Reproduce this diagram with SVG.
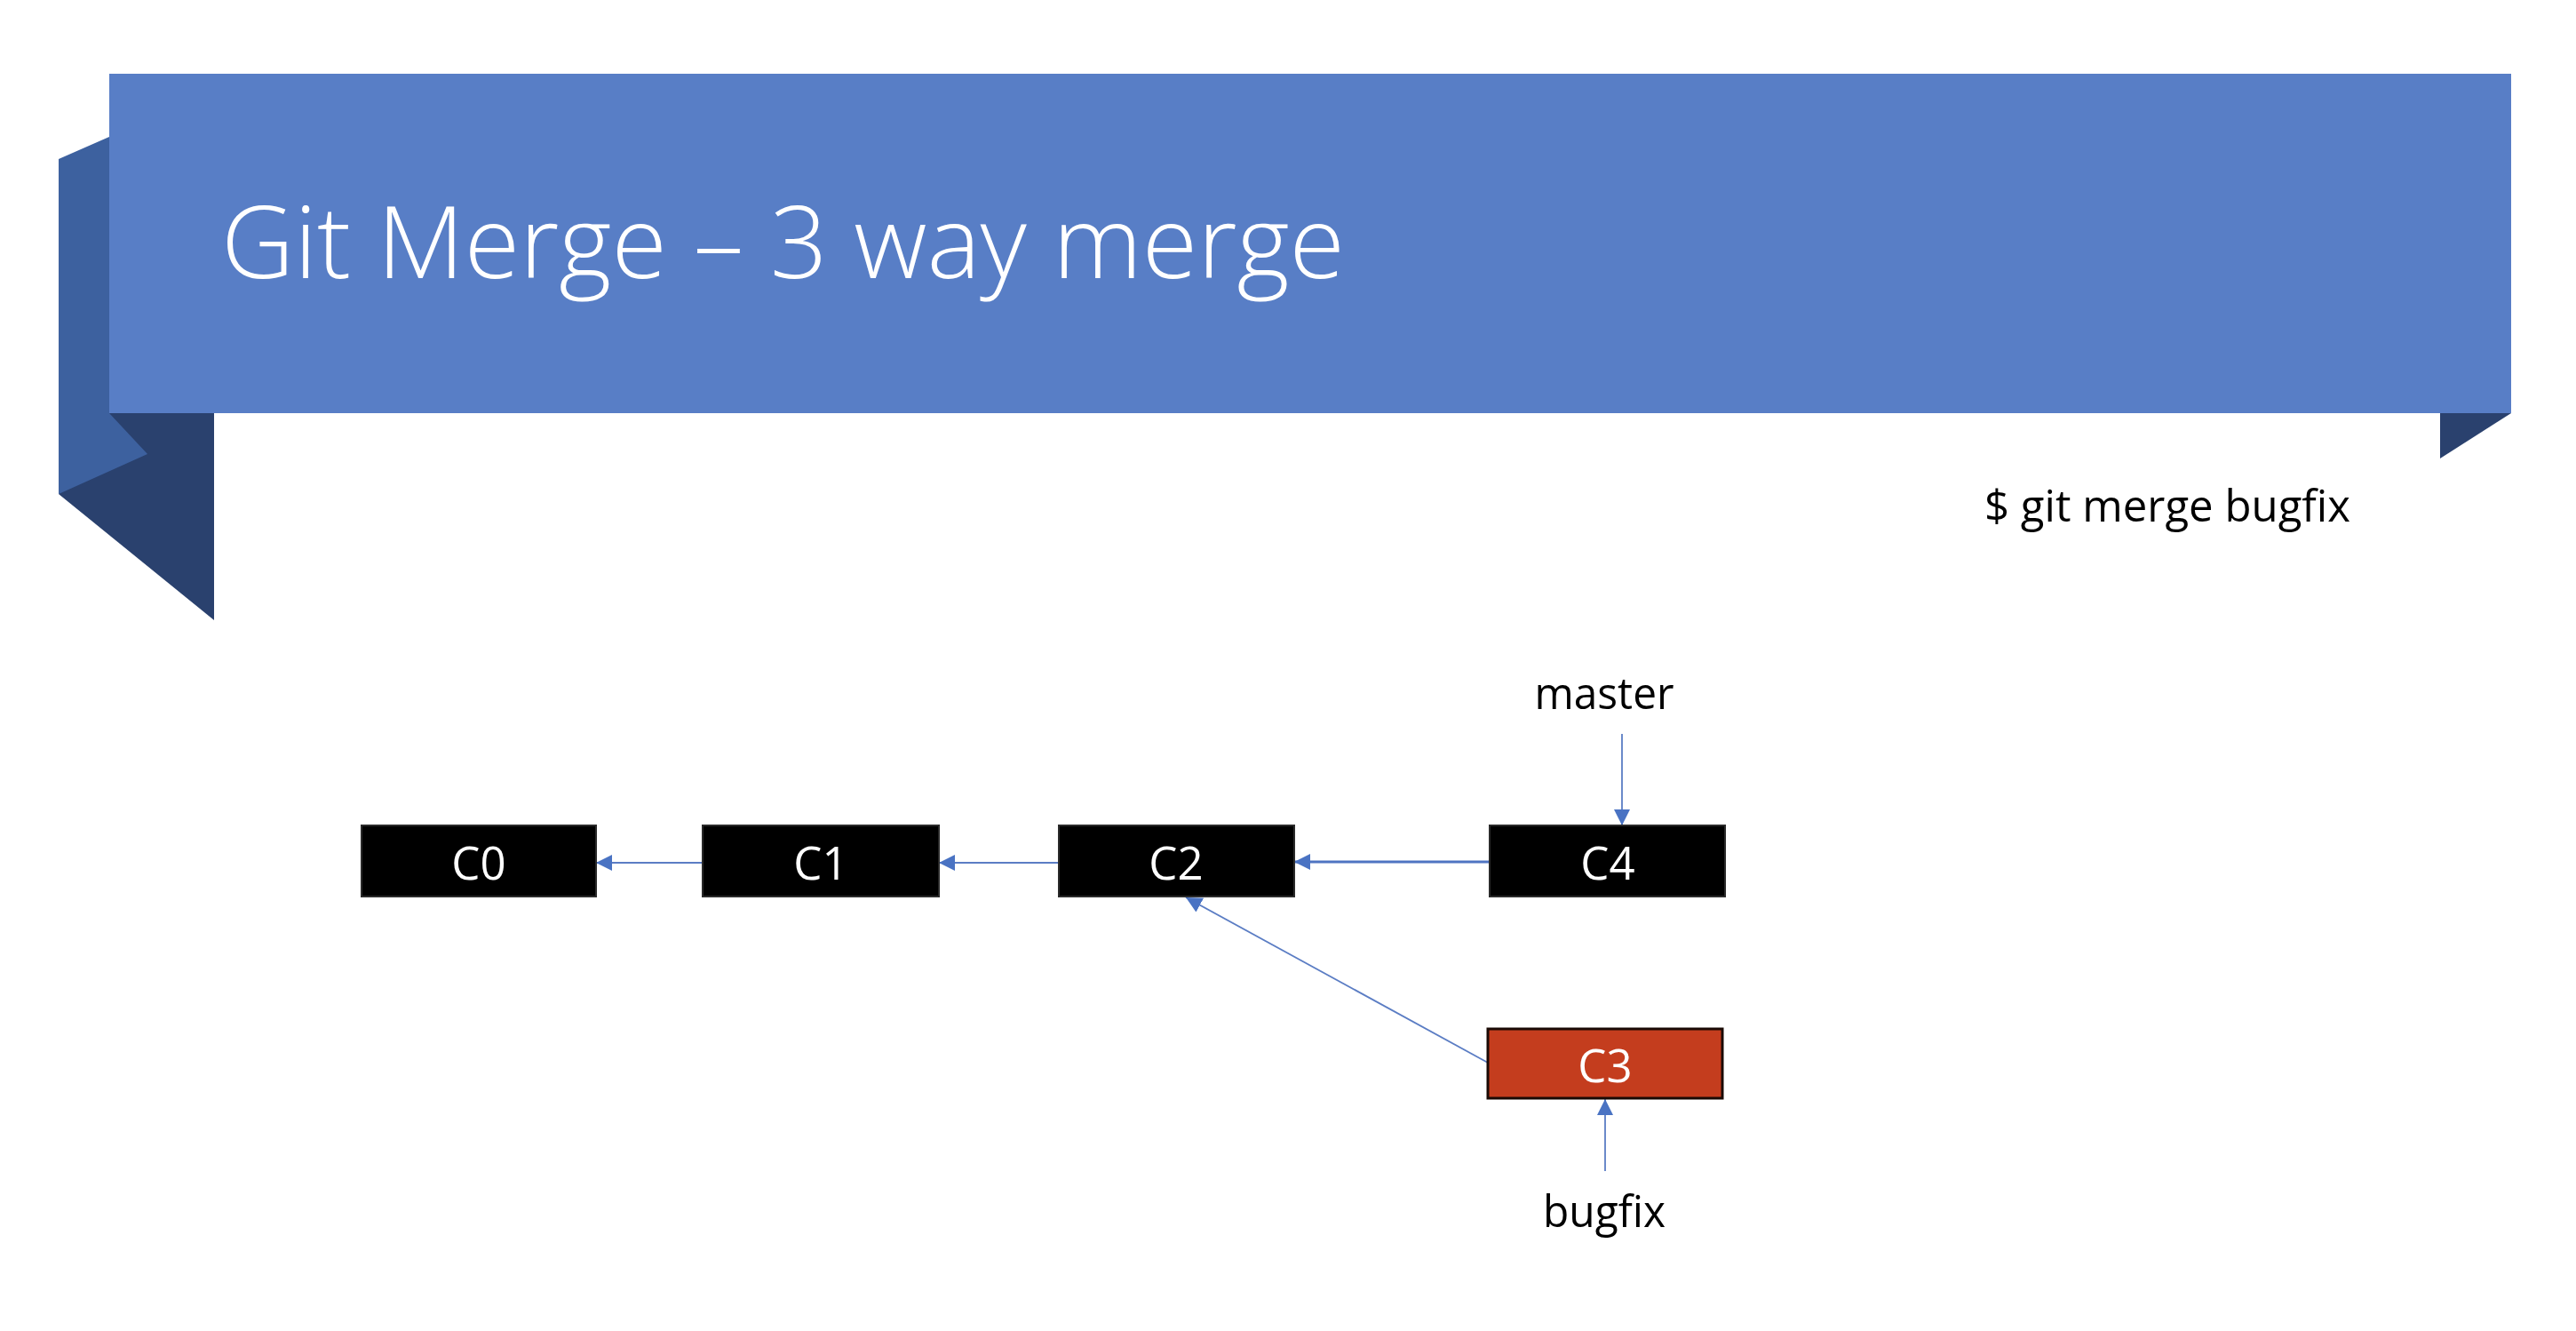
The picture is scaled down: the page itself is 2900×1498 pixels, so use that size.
<svg xmlns="http://www.w3.org/2000/svg" width="2900" height="1498" viewBox="0 0 2900 1498">
  <defs>
    <marker id="arr" markerUnits="userSpaceOnUse" markerWidth="20" markerHeight="20" refX="18" refY="9" orient="auto">
      <path d="M0,0 L18,9 L0,18 z" fill="#4A73C3"/>
    </marker>
    <style>
      .commit { stroke: #2a2a2a; stroke-width: 2; }
      .black { fill: #000000; }
      .red { fill: #C43D1E; stroke: #1a0a05; stroke-width: 3; }
      .ctext { font-family: "Open Sans", "Liberation Sans", sans-serif; font-size: 51px; fill: #ffffff; text-anchor: middle; }
      .label { font-family: "Open Sans", "Liberation Sans", sans-serif; font-size: 50px; fill: #000000; text-anchor: middle; }
      .conn { stroke: #5B7DC4; stroke-width: 1.8; fill: none; marker-end: url(#arr); }
    </style>
  </defs>
  <rect x="0" y="0" width="2900" height="1498" fill="#ffffff"/>

  <g id="banner">
    <polygon points="123,465 241,465 241,698 66,556" fill="#2A416E"/>
    <polygon points="66,179 123,154 123,465 166,511 66,556" fill="#3D619F"/>
    <polygon points="2747,465 2827,465 2747,516" fill="#2A416E"/>
    <rect x="123" y="83" width="2704" height="382" fill="#587EC6"/>
    <text x="249" y="313" font-family="'Open Sans', 'Liberation Sans', sans-serif" font-weight="300" font-size="112" fill="#ffffff" textLength="1265" lengthAdjust="spacingAndGlyphs">Git Merge – 3 way merge</text>
  </g>

  <g id="command">
    <text x="2234" y="587" font-family="'Open Sans', 'Liberation Sans', sans-serif" font-size="50" fill="#000000" textLength="412" lengthAdjust="spacingAndGlyphs">$ git merge bugfix</text>
  </g>

  <g id="connectors">
    <line class="conn" x1="791" y1="971" x2="671" y2="971"/>
    <line class="conn" x1="1192" y1="971" x2="1057" y2="971"/>
    <line class="conn" x1="1677" y1="970" x2="1457" y2="970" style="stroke-width:2.8;stroke:#4F74C2"/>
    <line class="conn" x1="1675" y1="1196" x2="1335" y2="1010"/>
    <line class="conn" x1="1826" y1="826" x2="1826" y2="929"/>
    <line class="conn" x1="1807" y1="1318" x2="1807" y2="1237"/>
  </g>

  <g id="C0">
    <rect class="commit black" x="407" y="929" width="264" height="80"/>
    <text class="ctext" x="539" y="990">C0</text>
  </g>
  <g id="C1">
    <rect class="commit black" x="791" y="929" width="266" height="80"/>
    <text class="ctext" x="924" y="990">C1</text>
  </g>
  <g id="C2">
    <rect class="commit black" x="1192" y="929" width="265" height="80"/>
    <text class="ctext" x="1324" y="990">C2</text>
  </g>
  <g id="C4">
    <rect class="commit black" x="1677" y="929" width="265" height="80"/>
    <text class="ctext" x="1810" y="990">C4</text>
  </g>
  <g id="C3">
    <rect class="red" x="1675" y="1158" width="264" height="78"/>
    <text class="ctext" x="1807" y="1218">C3</text>
  </g>

  <g id="master">
    <text class="label" x="1806" y="798" textLength="157" lengthAdjust="spacingAndGlyphs">master</text>
  </g>
  <g id="bugfix">
    <text class="label" x="1806" y="1381" textLength="138" lengthAdjust="spacingAndGlyphs">bugfix</text>
  </g>
</svg>
